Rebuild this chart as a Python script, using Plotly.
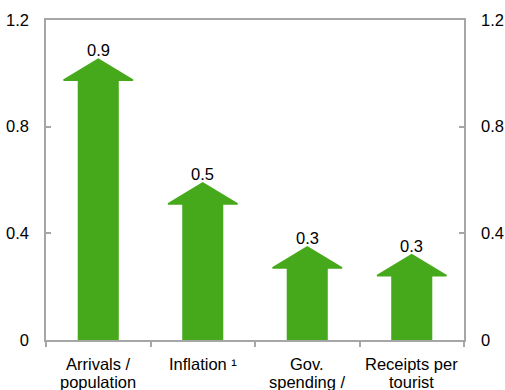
import plotly.graph_objects as go

# ---- data ----
categories = ["Arrivals / population", "Inflation ¹", "Gov. spending / GDP", "Receipts per tourist"]
category_lines = [["Arrivals /", "population"], ["Inflation ¹"], ["Gov.", "spending /"], ["Receipts per", "tourist"]]
arrow_tip = [1.053, 0.589, 0.349, 0.320]
value_labels = ["0.9", "0.5", "0.3", "0.3"]
y_tickvals = [0, 0.4, 0.8, 1.2]
y_ticktext = ["0", "0.4", "0.8", "1.2"]

# ---- style ----
GREEN = "#46A91B"
AXIS = "#A6A6A6"
FONT = "Liberation Sans, Arial, sans-serif"
FS = 16.5
HEAD_H = 0.0787      # arrow head height in y units
HEAD_HALF = 0.333    # half width of head in category units
SHAFT_W = 0.393

pos = list(range(len(categories)))
boundaries = [p - 0.5 for p in pos] + [pos[-1] + 0.5]

fig = go.Figure()

shaft_top = [t - HEAD_H for t in arrow_tip]
fig.add_trace(go.Bar(x=pos, y=shaft_top, width=SHAFT_W,
                     marker=dict(color=GREEN, line=dict(width=0)),
                     hoverinfo="skip", showlegend=False))

for p, tip in zip(pos, arrow_tip):
    base = tip - HEAD_H
    fig.add_trace(go.Scatter(
        x=[p - HEAD_HALF, p, p + HEAD_HALF, p - HEAD_HALF],
        y=[base, tip, base, base],
        mode="lines", fill="toself", fillcolor=GREEN,
        line=dict(color=GREEN, width=1.5),
        hoverinfo="skip", showlegend=False))

# invisible trace on right axis
fig.add_trace(go.Scatter(x=[pos[0]], y=[0], yaxis="y2", mode="markers",
                         marker=dict(opacity=0), hoverinfo="skip", showlegend=False))

annotations = []
for p, tip, lab in zip(pos, arrow_tip, value_labels):
    annotations.append(dict(x=p, y=tip, xref="x", yref="y", text=lab, showarrow=False,
                            yanchor="bottom", yshift=-2,
                            font=dict(family=FONT, size=FS, color="#000")))
for p, lines in zip(pos, category_lines):
    for j, line in enumerate(lines):
        annotations.append(dict(x=p, y=0, xref="x", yref="paper", text=line, showarrow=False,
                                yanchor="top", yshift=-13 - 18 * j,
                                font=dict(family=FONT, size=FS, color="#000")))

axis_common = dict(showline=True, linecolor=AXIS, linewidth=1.5, tickcolor=AXIS, tickwidth=1.5,
                   showgrid=False, zeroline=False, automargin=False)

fig.update_layout(
    width=505, height=390,
    margin=dict(l=46, r=41, t=20, b=50),
    paper_bgcolor="white", plot_bgcolor="white",
    font=dict(family=FONT, size=FS, color="#000"),
    showlegend=False,
    xaxis=dict(range=[boundaries[0], boundaries[-1]], mirror=True,
               ticks="outside", tickvals=boundaries, ticklen=5,
               showticklabels=False, **axis_common),
    yaxis=dict(range=[0, 1.2], tickvals=y_tickvals, ticktext=y_ticktext,
               ticks="inside", ticklen=5, ticklabelstandoff=12,
               tickfont=dict(family=FONT, size=FS, color="#000"), **axis_common),
    yaxis2=dict(range=[0, 1.2], tickvals=y_tickvals, ticktext=y_ticktext,
                overlaying="y", side="right",
                ticks="inside", ticklen=5, ticklabelstandoff=12,
                tickfont=dict(family=FONT, size=FS, color="#000"), **axis_common),
    annotations=annotations,
)

fig.write_html("out.html", config={"displayModeBar": False},
               post_script="document.body.style.margin='0';document.body.style.overflow='hidden';")
